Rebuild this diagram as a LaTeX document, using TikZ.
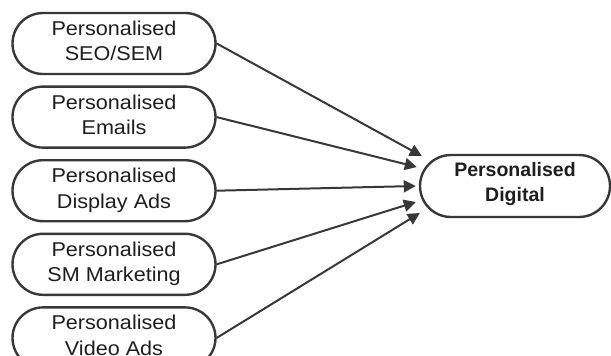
\documentclass[tikz,border=0pt]{standalone}
\usepackage{fontspec}
\setmainfont{Liberation Sans}
\newfontfamily\widesans[FakeStretch=1.08]{Liberation Sans}
\usetikzlibrary{arrows.meta,positioning,shapes.misc}
\definecolor{edgegray}{HTML}{383838}
\definecolor{inkgray}{HTML}{1E1E1E}
\begin{document}
\begin{tikzpicture}[x=1pt,y=-1pt,line cap=round,line join=round,
  channel/.style={rounded rectangle,draw=edgegray,line width=2.4pt,
    minimum width=203pt,minimum height=61pt,inner sep=0pt,align=center,
    text depth=5pt,text=inkgray,font=\widesans\fontsize{20}{25.5}\selectfont},
  target/.style={channel,minimum width=190pt,minimum height=62pt,text depth=8pt,
    font=\bfseries\fontsize{19.5}{25}\selectfont},
  feed/.style={draw=edgegray,line width=2pt,-{Triangle[length=12pt,width=12pt]}}]
  \useasboundingbox (0,0) rectangle (611,356);
  % channels on the left
  \node[channel] (seo) at (114,43.5) {Personalised\\SEO/SEM};
  \node[channel,below=10.2pt of seo] (mail) {Personalised\\Emails};
  \node[channel,below=10.2pt of mail] (disp) {Personalised\\Display Ads};
  \node[channel,below=10.2pt of disp] (smm) {Personalised\\SM Marketing};
  \node[channel,below=10.2pt of smm] (vid) {Personalised\\Video Ads};
  % goal on the right
  \node[target] (dig) at (515,186) {Personalised\\Digital};
  \path (dig.west) ++(3,-30) coordinate (in1)
        (dig.west) ++(-2,-19) coordinate (in2)
        (dig.west) ++(-3,0) coordinate (in3)
        (dig.west) ++(-3,16) coordinate (in4)
        (dig.west) ++(1,27) coordinate (in5);
  \draw[feed] (seo.east) -- (in1);
  \draw[feed] (mail.east) -- (in2);
  \draw[feed] (disp.east) -- (in3);
  \draw[feed] (smm.east) -- (in4);
  \draw[feed] (vid.east) -- (in5);
\end{tikzpicture}
\end{document}
